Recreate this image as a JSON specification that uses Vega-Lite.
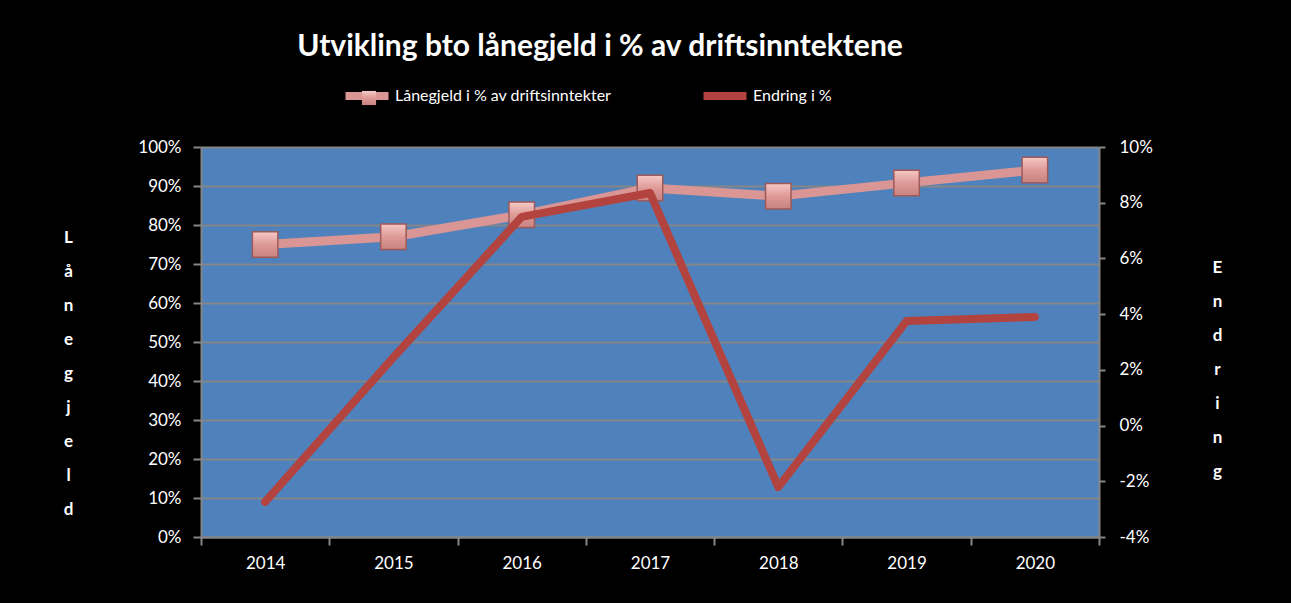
{
  "$schema": "https://vega.github.io/schema/vega-lite/v6.json",
  "width": 898,
  "height": 390,
  "autosize": "none",
  "padding": {"left": 201, "top": 147, "right": 192, "bottom": 66},
  "background": "black",
  "title": {
    "text": "Utvikling bto lånegjeld i % av driftsinntektene",
    "color": "white",
    "font": "Lato",
    "fontWeight": "bold",
    "fontSize": 30,
    "anchor": "middle",
    "frame": "group",
    "dx": -50,
    "baseline": "alphabetic",
    "offset": -16
  },
  "config": {
    "view": {"fill": "#4F81BD", "stroke": null},
    "axis": {
      "labelColor": "white",
      "labelFont": "Lato",
      "labelFontSize": 17,
      "domainColor": "#868686",
      "domainWidth": 2,
      "tickColor": "#868686",
      "tickWidth": 2,
      "gridColor": "#868686",
      "gridWidth": 2,
      "titleColor": "white",
      "titleFont": "Lato"
    },
    "legend": {
      "labelColor": "white",
      "labelFont": "Lato",
      "labelFontSize": 16,
      "padding": 0
    }
  },
  "data": {
    "values": [
      {"year": "2014", "series": "Lånegjeld i % av driftsinntekter", "value": 0.75},
      {"year": "2015", "series": "Lånegjeld i % av driftsinntekter", "value": 0.77},
      {"year": "2016", "series": "Lånegjeld i % av driftsinntekter", "value": 0.826},
      {"year": "2017", "series": "Lånegjeld i % av driftsinntekter", "value": 0.895},
      {"year": "2018", "series": "Lånegjeld i % av driftsinntekter", "value": 0.874},
      {"year": "2019", "series": "Lånegjeld i % av driftsinntekter", "value": 0.908},
      {"year": "2020", "series": "Lånegjeld i % av driftsinntekter", "value": 0.941},
      {"year": "2014", "series": "Endring i %", "value": -0.0274},
      {"year": "2015", "series": "Endring i %", "value": 0.0245},
      {"year": "2016", "series": "Endring i %", "value": 0.0749},
      {"year": "2017", "series": "Endring i %", "value": 0.0835},
      {"year": "2018", "series": "Endring i %", "value": -0.0221},
      {"year": "2019", "series": "Endring i %", "value": 0.0375},
      {"year": "2020", "series": "Endring i %", "value": 0.039}
    ]
  },
  "layer": [
    {
      "transform": [{"filter": "datum.series !== 'Endring i %'"}],
      "encoding": {
        "x": {
          "field": "year",
          "type": "ordinal",
          "scale": {"paddingInner": 0, "paddingOuter": 0},
          "axis": {
            "title": null,
            "labelAngle": 0,
            "tickBand": "extent",
            "tickSize": 8,
            "labelPadding": 10
          }
        },
        "y": {
          "field": "value",
          "type": "quantitative",
          "scale": {"domain": [0, 1], "nice": false},
          "axis": {
            "values": [0, 0.1, 0.2, 0.3, 0.4, 0.5, 0.6, 0.7, 0.8, 0.9, 1],
            "format": ".0%",
            "grid": true,
            "tickSize": 8,
            "labelPadding": 12,
            "title": ["L", "å", "n", "e", "g", "j", "e", "l", "d"],
            "titleAngle": 0,
            "titleAlign": "center",
            "titleBaseline": "top",
            "titleX": -133,
            "titleY": 82,
            "titleLineHeight": 34,
            "titleFontSize": 17,
            "titleFontWeight": "bold"
          }
        }
      },
      "layer": [
        {
          "mark": {"type": "line", "strokeWidth": 9, "strokeCap": "round", "strokeJoin": "round"},
          "encoding": {
            "color": {
              "field": "series",
              "type": "nominal",
              "scale": {
                "domain": ["Lånegjeld i % av driftsinntekter", "Endring i %"],
                "range": ["#D99694", "#B3433F"]
              },
              "legend": {
                "title": null,
                "orient": "none",
                "direction": "horizontal",
                "legendX": 140,
                "legendY": -77,
                "symbolType": "stroke",
                "symbolStrokeWidth": 8,
                "symbolSize": 1850,
                "labelOffset": 2,
                "columnPadding": 75,
                "labelLimit": 400
              }
            }
          }
        },
        {
          "mark": {
            "type": "point",
            "filled": true,
            "size": 650,
            "opacity": 1,
            "fill": {
              "gradient": "linear",
              "x1": 0, "y1": 0, "x2": 0, "y2": 1,
              "stops": [
                {"offset": 0, "color": "#F6C9C7"},
                {"offset": 0.5, "color": "#DE9A97"},
                {"offset": 1, "color": "#C98380"}
              ]
            },
            "stroke": "#9E5A58",
            "strokeWidth": 1.5
          },
          "encoding": {
            "shape": {
              "datum": "Lånegjeld i % av driftsinntekter",
              "scale": {"domain": ["Lånegjeld i % av driftsinntekter"], "range": ["square"]},
              "legend": {
                "title": null,
                "orient": "none",
                "legendX": 160,
                "legendY": -57,
                "symbolSize": 200,
                "symbolFillColor": "#E2A19E",
                "symbolStrokeColor": "#9E5A58",
                "symbolStrokeWidth": 1.5,
                "symbolOpacity": 1,
                "labelOpacity": 0,
                "labelFontSize": 1
              }
            }
          }
        }
      ]
    },
    {
      "transform": [{"filter": "datum.series === 'Endring i %'"}],
      "mark": {"type": "line", "strokeWidth": 8, "strokeCap": "round", "strokeJoin": "round"},
      "encoding": {
        "x": {"field": "year", "type": "ordinal"},
        "y": {
          "field": "value",
          "type": "quantitative",
          "scale": {"domain": [-0.04, 0.1], "nice": false},
          "axis": {
            "orient": "right",
            "values": [-0.04, -0.02, 0, 0.02, 0.04, 0.06, 0.08, 0.1],
            "labelExpr": "replace(format(datum.value, '.0%'), '\u2212', '-')",
            "grid": false,
            "tickSize": 6,
            "labelPadding": 14,
            "title": ["E", "n", "d", "r", "i", "n", "g"],
            "titleAngle": 0,
            "titleAlign": "center",
            "titleBaseline": "top",
            "titleX": 118,
            "titleY": 112,
            "titleLineHeight": 34,
            "titleFontSize": 17,
            "titleFontWeight": "bold"
          }
        },
        "color": {"field": "series", "type": "nominal"}
      }
    }
  ],
  "resolve": {"scale": {"y": "independent"}}
}
